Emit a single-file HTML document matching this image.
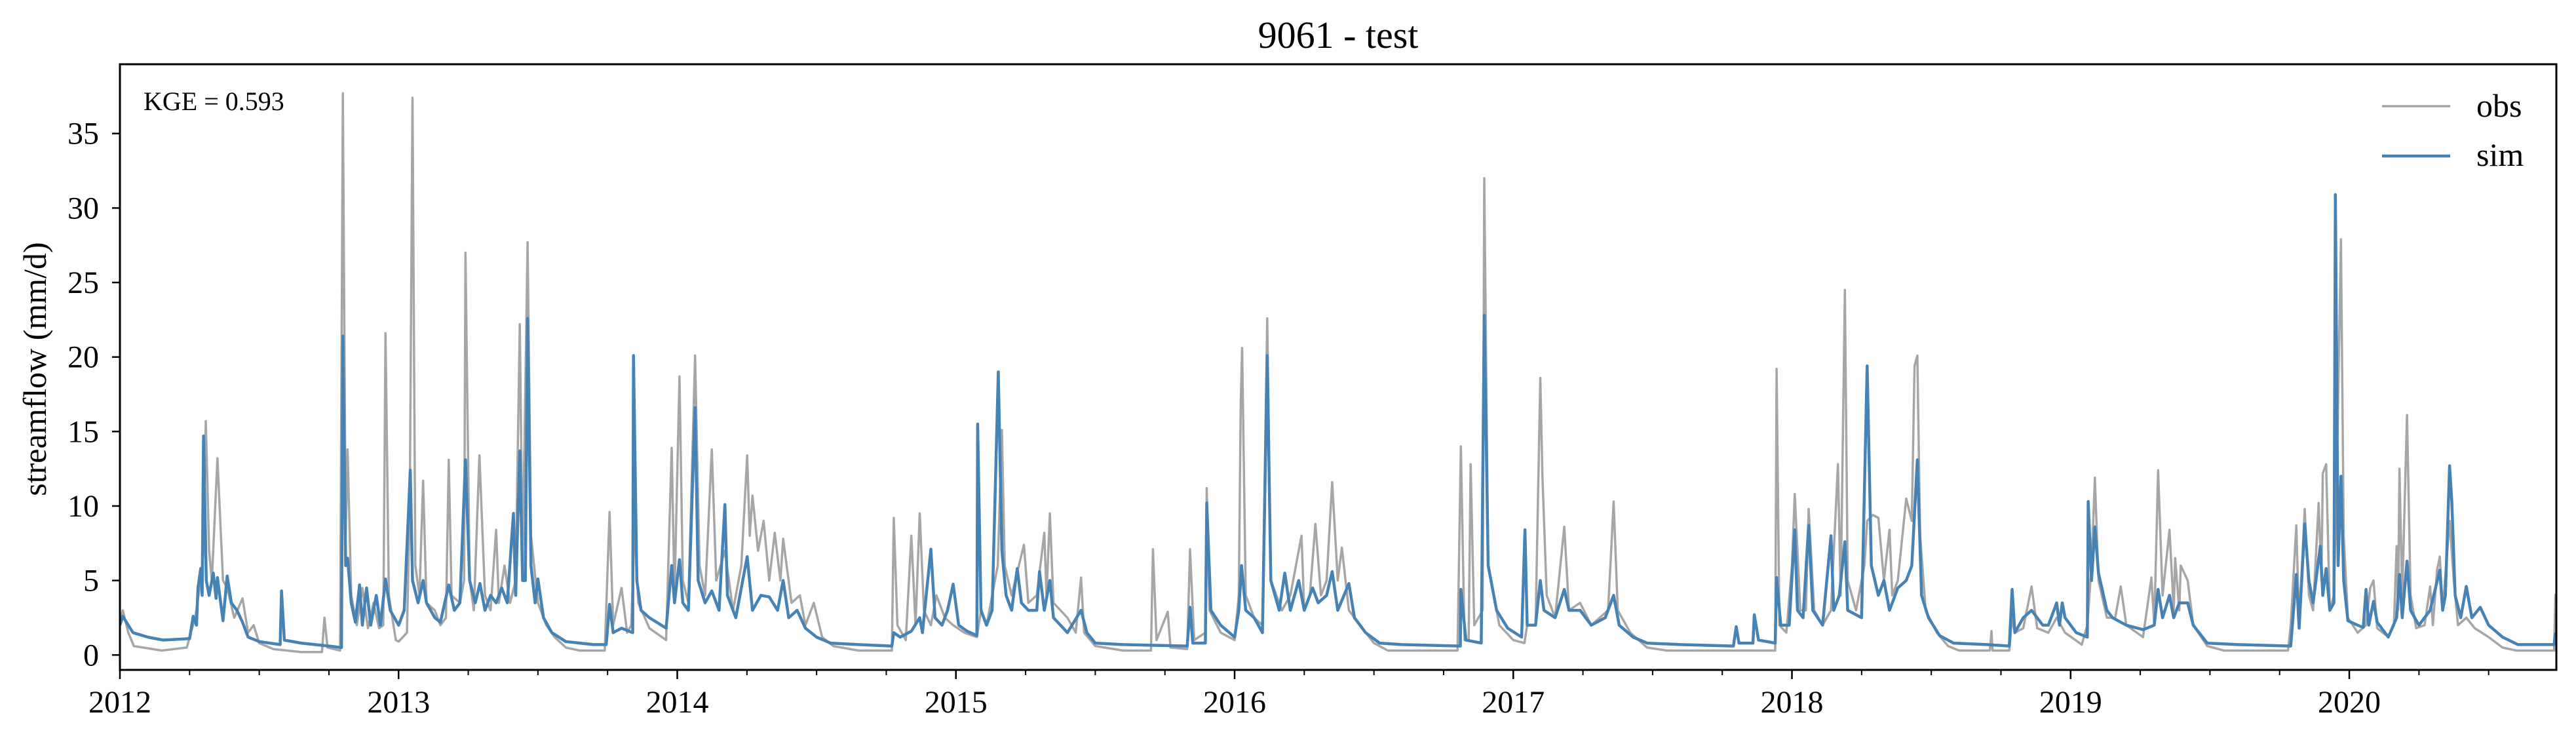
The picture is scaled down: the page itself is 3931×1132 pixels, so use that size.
<!DOCTYPE html>
<html><head><meta charset="utf-8"><title>9061 - test</title>
<style>html,body{margin:0;padding:0;background:#fff}svg{display:block}</style></head>
<body>
<svg id="chart" width="3931" height="1132" viewBox="0 0 3931 1132" xmlns="http://www.w3.org/2000/svg" font-family="'Liberation Serif', serif">
<defs><clipPath id="plotclip"><rect x="183" y="98" width="3718" height="924"/></clipPath></defs>
<rect x="0" y="0" width="3931" height="1132" fill="#fff"/>
<text x="2042" y="73" font-size="58" text-anchor="middle">9061 - test</text>
<g id="series" clip-path="url(#plotclip)"></g>
<g id="axes"></g>
<rect x="183" y="98" width="3718" height="924" fill="none" stroke="#000" stroke-width="3"/>
<text x="219" y="168" font-size="40">KGE = 0.593</text>
<text transform="translate(70,563) rotate(-90)" font-size="50" text-anchor="middle">streamflow (mm/d)</text>
<g>
<line x1="3635" y1="162" x2="3739" y2="162" stroke="#a6a6a6" stroke-width="3.5"/>
<text x="3779" y="178" font-size="50">obs</text>
<line x1="3635" y1="238" x2="3739" y2="238" stroke="#4682b4" stroke-width="4.5"/>
<text x="3779" y="253" font-size="50">sim</text>
</g>
</svg>
<script>
const yTicks = [0,5,10,15,20,25,30,35];
const xYears = [2012,2013,2014,2015,2016,2017,2018,2019,2020];
const obsPoints = [[2012.00,2.2],[2012.01,3.0],[2012.03,1.5],[2012.05,0.6],[2012.15,0.3],[2012.24,0.5],[2012.25,1.2],[2012.27,2.5],[2012.29,5],[2012.30,7],[2012.308,15.7],[2012.32,7],[2012.33,5],[2012.35,13.2],[2012.37,5],[2012.385,4.5],[2012.41,2.5],[2012.44,3.8],[2012.46,1.5],[2012.48,2.0],[2012.50,0.8],[2012.55,0.4],[2012.65,0.2],[2012.725,0.2],[2012.734,2.5],[2012.745,0.5],[2012.79,0.3],[2012.80,37.7],[2012.81,8],[2012.817,13.8],[2012.83,4],[2012.85,2],[2012.87,4.5],[2012.89,1.8],[2012.91,3.5],[2012.93,1.8],[2012.945,2],[2012.953,21.6],[2012.965,4],[2012.99,1],[2013.0,0.9],[2013.03,1.5],[2013.04,10],[2013.05,37.4],[2013.06,6],[2013.075,4],[2013.088,11.7],[2013.1,3.5],[2013.13,3],[2013.15,2.0],[2013.17,2.5],[2013.18,13.1],[2013.19,4],[2013.22,3.5],[2013.235,5],[2013.24,27.0],[2013.255,5],[2013.27,3],[2013.29,13.4],[2013.31,4],[2013.33,3],[2013.35,8.4],[2013.36,3.5],[2013.38,6],[2013.40,3.5],[2013.42,5],[2013.435,22.2],[2013.445,6],[2013.463,27.7],[2013.475,8],[2013.50,3.5],[2013.53,2],[2013.56,1.2],[2013.6,0.5],[2013.65,0.3],[2013.74,0.3],[2013.757,9.6],[2013.77,2],[2013.80,4.5],[2013.82,1.5],[2013.835,2],[2013.848,9.0],[2013.86,3.5],[2013.9,1.8],[2013.96,1.0],[2013.98,13.9],[2013.99,4],[2014.008,18.7],[2014.02,5],[2014.04,3.5],[2014.064,20.1],[2014.08,6],[2014.1,4],[2014.124,13.8],[2014.14,5],[2014.171,7],[2014.2,3],[2014.23,6],[2014.251,13.4],[2014.26,8],[2014.27,10.7],[2014.29,7],[2014.31,9],[2014.33,5],[2014.35,8.2],[2014.37,5],[2014.38,7.8],[2014.41,3.5],[2014.44,4],[2014.46,2],[2014.49,3.5],[2014.52,1.2],[2014.56,0.6],[2014.65,0.3],[2014.77,0.3],[2014.777,9.2],[2014.79,2],[2014.82,1.0],[2014.84,8.0],[2014.855,2],[2014.87,9.5],[2014.885,3],[2014.91,2],[2014.93,4],[2014.96,2.5],[2014.99,2],[2015.03,1.5],[2015.075,1.2],[2015.09,3],[2015.11,2],[2015.15,6],[2015.165,15.1],[2015.175,6],[2015.2,4],[2015.244,7.4],[2015.26,3.5],[2015.29,4],[2015.317,8.2],[2015.325,4],[2015.337,9.5],[2015.35,3.5],[2015.40,2.5],[2015.43,1.5],[2015.449,5.2],[2015.46,1.5],[2015.5,0.6],[2015.6,0.3],[2015.70,0.3],[2015.707,7.1],[2015.72,1],[2015.76,2.9],[2015.77,0.5],[2015.83,0.4],[2015.84,7.1],[2015.855,1],[2015.895,1.5],[2015.90,11.2],[2015.91,3],[2015.95,1.5],[2016.0,1.0],[2016.015,4],[2016.022,17.0],[2016.027,20.6],[2016.04,4],[2016.07,2.5],[2016.10,2],[2016.117,22.6],[2016.13,5],[2016.17,3],[2016.2,4],[2016.24,8.0],[2016.25,3],[2016.27,4],[2016.29,8.8],[2016.31,4],[2016.33,5],[2016.35,11.6],[2016.37,5],[2016.385,7.2],[2016.41,3],[2016.45,2],[2016.5,0.8],[2016.55,0.3],[2016.80,0.3],[2016.812,14.0],[2016.825,1],[2016.84,1],[2016.847,12.8],[2016.86,2],[2016.89,3],[2016.896,32.0],[2016.91,6],[2016.95,2],[2017.0,1.0],[2017.04,0.8],[2017.05,2],[2017.08,2],[2017.097,18.6],[2017.105,11.8],[2017.12,4],[2017.15,2.5],[2017.183,8.6],[2017.2,3],[2017.24,3.5],[2017.28,2],[2017.34,3],[2017.35,6.5],[2017.36,10.3],[2017.375,3],[2017.42,1.5],[2017.48,0.5],[2017.55,0.3],[2017.94,0.3],[2017.945,19.2],[2017.955,2],[2017.98,1.5],[2018.0,6],[2018.01,10.8],[2018.03,3],[2018.05,3],[2018.06,9.8],[2018.08,3],[2018.11,2],[2018.14,3],[2018.165,12.8],[2018.175,4],[2018.19,24.5],[2018.2,5],[2018.23,3],[2018.26,6],[2018.27,9],[2018.29,9.4],[2018.31,9.2],[2018.33,5],[2018.35,8.4],[2018.36,4],[2018.38,5],[2018.41,10.5],[2018.43,9],[2018.44,19.4],[2018.45,20.1],[2018.46,8],[2018.48,3],[2018.52,1.5],[2018.56,0.6],[2018.6,0.3],[2018.71,0.3],[2018.716,1.6],[2018.72,0.3],[2018.78,0.3],[2018.79,2.5],[2018.80,1.5],[2018.83,1.8],[2018.86,4.6],[2018.88,1.8],[2018.92,1.5],[2018.95,2.5],[2018.98,1.5],[2019.04,0.7],[2019.06,2],[2019.075,6],[2019.087,11.9],[2019.1,5],[2019.13,2.5],[2019.16,2.5],[2019.18,4.6],[2019.2,2],[2019.26,1.2],[2019.29,5.2],[2019.30,2],[2019.314,12.4],[2019.33,4],[2019.355,8.4],[2019.37,3],[2019.375,6.5],[2019.39,3],[2019.395,6],[2019.42,5],[2019.44,2],[2019.49,0.6],[2019.55,0.3],[2019.78,0.3],[2019.79,2],[2019.81,8.7],[2019.82,2],[2019.84,9.8],[2019.855,4],[2019.87,3],[2019.89,10.2],[2019.9,5],[2019.905,12.2],[2019.917,12.8],[2019.93,3],[2019.945,4],[2019.955,12],[2019.97,27.9],[2019.98,8],[2019.995,2.5],[2020.03,1.5],[2020.06,2],[2020.075,4.5],[2020.087,5],[2020.1,1.8],[2020.14,1.2],[2020.16,2],[2020.17,7.3],[2020.175,3],[2020.18,12.5],[2020.19,4],[2020.207,16.1],[2020.22,4],[2020.24,1.8],[2020.27,2],[2020.29,4.6],[2020.3,2],[2020.315,5.7],[2020.325,6.6],[2020.335,3],[2020.36,9],[2020.375,5],[2020.39,2],[2020.42,2.5],[2020.45,1.8],[2020.5,1.2],[2020.55,0.5],[2020.6,0.3],[2020.735,0.3],[2020.74,4.1]];
const simPoints = [[2012.0,2.0],[2012.01,2.6],[2012.03,2.0],[2012.047,1.5],[2012.1,1.2],[2012.155,1.0],[2012.25,1.1],[2012.263,2.6],[2012.275,2],[2012.28,4.5],[2012.29,5.8],[2012.295,4],[2012.30,14.7],[2012.31,5],[2012.32,4],[2012.335,5.5],[2012.345,3.8],[2012.35,5.2],[2012.37,2.3],[2012.385,5.3],[2012.40,3.5],[2012.42,3],[2012.44,2.2],[2012.46,1.2],[2012.5,0.9],[2012.575,0.7],[2012.58,4.3],[2012.59,1],[2012.65,0.8],[2012.75,0.6],[2012.795,0.5],[2012.80,21.4],[2012.81,6],[2012.817,6.5],[2012.83,3.5],[2012.845,2.2],[2012.86,4.7],[2012.87,2],[2012.885,4.5],[2012.9,2],[2012.92,4],[2012.935,2],[2012.953,5.1],[2012.97,3],[2013.0,2.0],[2013.02,3],[2013.042,12.4],[2013.05,5],[2013.07,3.5],[2013.088,5],[2013.1,3.5],[2013.13,2.5],[2013.15,2.2],[2013.18,4.7],[2013.2,3],[2013.22,3.5],[2013.24,13.1],[2013.255,5],[2013.275,3.5],[2013.292,4.8],[2013.31,3],[2013.33,4],[2013.35,3.5],[2013.37,4.5],[2013.39,3.5],[2013.412,9.5],[2013.42,4],[2013.435,13.7],[2013.445,5],[2013.455,5],[2013.463,22.6],[2013.475,6],[2013.49,3.5],[2013.5,5.1],[2013.52,2.5],[2013.55,1.5],[2013.6,0.9],[2013.7,0.7],[2013.745,0.7],[2013.757,3.4],[2013.77,1.5],[2013.80,1.8],[2013.84,1.5],[2013.843,20.1],[2013.855,5],[2013.87,3],[2013.9,2.5],[2013.96,1.8],[2013.98,6.0],[2013.99,3.5],[2014.008,6.4],[2014.02,3.5],[2014.04,3],[2014.064,16.6],[2014.075,5],[2014.1,3.5],[2014.124,4.3],[2014.15,3],[2014.171,10.1],[2014.18,4],[2014.21,2.5],[2014.251,6.6],[2014.27,3],[2014.3,4],[2014.33,3.9],[2014.36,3],[2014.38,5.0],[2014.40,2.5],[2014.43,3],[2014.46,1.8],[2014.5,1.2],[2014.55,0.8],[2014.65,0.7],[2014.77,0.6],[2014.777,1.5],[2014.8,1.2],[2014.84,1.6],[2014.87,2.5],[2014.88,1.5],[2014.91,7.1],[2014.925,2.5],[2014.95,2],[2014.97,3],[2014.99,4.75],[2015.01,2],[2015.04,1.6],[2015.075,1.3],[2015.078,15.5],[2015.09,3],[2015.11,2],[2015.13,3],[2015.152,19.0],[2015.165,7],[2015.18,4],[2015.2,3],[2015.22,5.8],[2015.235,3.5],[2015.26,3],[2015.29,3],[2015.30,5.6],[2015.317,3],[2015.337,5],[2015.35,2.5],[2015.40,1.5],[2015.449,3],[2015.47,1.5],[2015.5,0.8],[2015.6,0.7],[2015.83,0.6],[2015.84,3.2],[2015.85,0.8],[2015.895,0.8],[2015.90,10.2],[2015.915,3],[2015.95,2],[2016.0,1.2],[2016.015,3],[2016.025,6.0],[2016.04,3],[2016.07,2.5],[2016.10,1.5],[2016.117,20.1],[2016.13,5],[2016.16,3],[2016.18,5.5],[2016.2,3],[2016.23,5],[2016.25,3],[2016.28,4.5],[2016.3,3.5],[2016.33,4],[2016.35,5.6],[2016.37,3],[2016.41,4.8],[2016.43,2.5],[2016.47,1.5],[2016.52,0.8],[2016.6,0.7],[2016.81,0.6],[2016.812,4.4],[2016.83,1],[2016.885,0.8],[2016.896,22.8],[2016.91,6],[2016.94,3],[2016.98,1.8],[2017.03,1.2],[2017.042,8.4],[2017.05,2],[2017.08,2],[2017.097,5],[2017.11,3],[2017.15,2.5],[2017.183,4.4],[2017.2,3],[2017.24,3],[2017.28,2],[2017.33,2.5],[2017.36,4],[2017.38,2],[2017.43,1.2],[2017.48,0.8],[2017.6,0.7],[2017.79,0.6],[2017.8,1.9],[2017.81,0.8],[2017.86,0.8],[2017.865,2.7],[2017.88,1],[2017.94,0.8],[2017.945,5.2],[2017.96,2],[2017.99,2],[2018.01,8.4],[2018.02,3],[2018.04,2.5],[2018.06,8.7],[2018.075,3],[2018.11,2],[2018.14,8.0],[2018.15,3],[2018.17,4],[2018.19,7.6],[2018.2,3],[2018.25,2.5],[2018.27,19.4],[2018.285,6],[2018.31,4],[2018.33,5],[2018.35,3],[2018.38,4.5],[2018.41,5],[2018.43,6],[2018.45,13.1],[2018.465,4],[2018.49,2.5],[2018.53,1.3],[2018.58,0.8],[2018.7,0.7],[2018.78,0.6],[2018.79,4.4],[2018.8,1.5],[2018.83,2.5],[2018.86,3],[2018.9,2],[2018.92,2],[2018.95,3.5],[2018.96,2],[2018.97,3.5],[2018.98,2.5],[2019.02,1.5],[2019.06,1.2],[2019.063,10.3],[2019.075,5],[2019.087,8.6],[2019.1,5.5],[2019.13,3],[2019.15,2.5],[2019.2,2],[2019.26,1.7],[2019.3,2],[2019.314,4.4],[2019.33,2.5],[2019.355,4],[2019.37,2.5],[2019.39,3.5],[2019.42,3.5],[2019.44,2],[2019.49,0.8],[2019.6,0.7],[2019.79,0.6],[2019.81,5.4],[2019.82,1.8],[2019.84,8.8],[2019.855,5],[2019.87,3.5],[2019.896,7.3],[2019.905,4],[2019.917,5.8],[2019.93,3],[2019.945,3.5],[2019.95,30.9],[2019.96,6],[2019.97,12.0],[2019.98,5],[2019.995,2.3],[2020.03,2],[2020.05,1.85],[2020.06,4.4],[2020.07,2],[2020.087,3.6],[2020.1,2.2],[2020.14,1.2],[2020.17,2.5],[2020.18,5.4],[2020.19,2.5],[2020.207,6.3],[2020.22,3],[2020.25,2],[2020.29,3],[2020.325,5.7],[2020.335,3],[2020.345,4],[2020.36,12.7],[2020.368,10.3],[2020.38,4],[2020.4,2.5],[2020.42,4.6],[2020.44,2.5],[2020.47,3.2],[2020.5,2],[2020.55,1.2],[2020.605,0.7],[2020.735,0.7],[2020.74,1.5]];

const NS = 'http://www.w3.org/2000/svg';
const X0 = 183, X1 = 3901, Y0 = 1022, Y1 = 98;
const xMin = 2012.0, xMax = 2020.743, yMin = -1.0, yMax = 39.65;
function xScale(d){ return X0 + (d - xMin) / (xMax - xMin) * (X1 - X0); }
function yScale(v){ return Y0 - (v - yMin) / (yMax - yMin) * (Y0 - Y1); }
function mk(tag, attrs, parent){ const e = document.createElementNS(NS, tag); for (const k in attrs) e.setAttribute(k, attrs[k]); parent.appendChild(e); return e; }

const series = document.getElementById('series');
const axes = document.getElementById('axes');

function pathFor(points){ return points.map((p,i)=>(i?'L':'M')+xScale(p[0]).toFixed(1)+' '+yScale(p[1]).toFixed(1)).join(' '); }
const obsPath = mk('path', {d: pathFor(obsPoints), fill:'none', stroke:'#a6a6a6', 'stroke-width':'3.5', 'stroke-linejoin':'round'}, series);


const simPath = mk('path', {d: pathFor(simPoints), fill:'none', stroke:'#4682b4', 'stroke-width':'4.5', 'stroke-linejoin':'round'}, series);



yTicks.forEach(v => {
  const y = yScale(v);
  const t = mk('line', {x1: X0 - 12, x2: X0, y1: y, y2: y, stroke:'#000', 'stroke-width':'2.5'}, axes);
  
  
  const l = mk('text', {x: 151, y: y + 16, 'font-size':'48', 'text-anchor':'end'}, axes);
  l.textContent = v;
  
  
});
xYears.forEach(yr => {
  const x = xScale(yr);
  const t = mk('line', {x1: x, x2: x, y1: Y0, y2: Y0 + 14, stroke:'#000', 'stroke-width':'2.5'}, axes);
  
  
  const l = mk('text', {x: x, y: 1087, 'font-size':'48', 'text-anchor':'middle'}, axes);
  l.textContent = yr;
  
  
  [0.25,0.5,0.75].forEach(q => {
    const d = yr + q;
    if (d > xMax) return;
    const m = mk('line', {x1: xScale(d), x2: xScale(d), y1: Y0, y2: Y0 + 8, stroke:'#000', 'stroke-width':'2'}, axes);
    
    
  });
});
</script>
</body></html>
